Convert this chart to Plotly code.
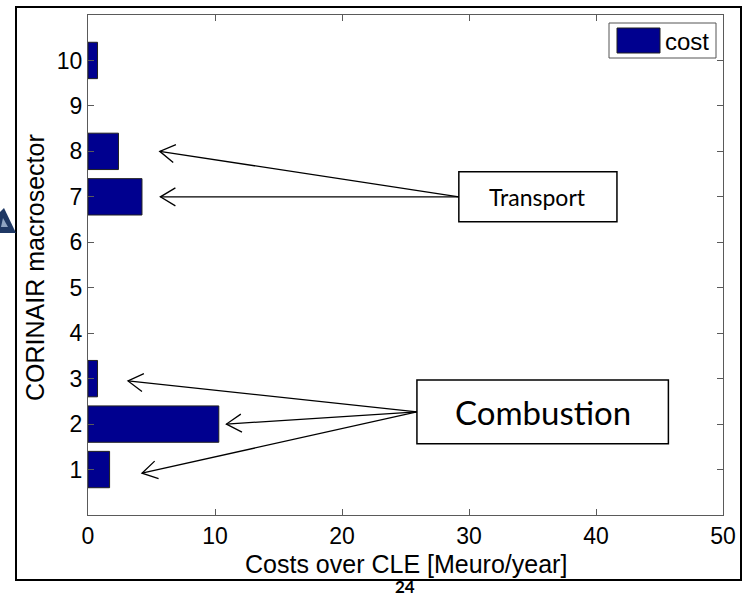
import math
import plotly.graph_objects as go

# ---- data -------------------------------------------------------------
sectors = [1, 2, 3, 4, 5, 6, 7, 8, 9, 10]
cost = [1.7, 10.3, 0.75, 0, 0, 0, 4.25, 2.4, 0, 0.75]
x_ticks = [0, 10, 20, 30, 40, 50]
series_name = "cost"
x_title = "Costs over CLE [Meuro/year]"
y_title = "CORINAIR macrosector"
page_number = "24"

# call-out boxes (data units) with the bars they point at
callouts = [
    dict(text="Transport", size=23, box=(29.2, 41.65, 6.45, 7.55),
         tail=(29.2, 7.0), tips=[(5.65, 8.0), (5.7, 7.0)]),
    dict(text="Combustion", size=33, box=(25.9, 45.7, 1.57, 2.97),
         tail=(25.9, 2.27), tips=[(3.15, 2.95), (10.9, 2.0), (4.25, 0.92)]),
]

# ---- geometry ---------------------------------------------------------
W, H = 748, 596
ML, MR, MT, MB = 88, 25, 15, 81
PW, PH = W - ML - MR, H - MT - MB
XR = (0, 50)
YR = (0, 11)
BAR_COLOR = "#00008F"
AXIS_FONT = "Liberation Sans, Arial, sans-serif"
NOTE_FONT = "Lato, Carlito, sans-serif"


def data_to_px(xd, yd):
    return (ML + (xd - XR[0]) / (XR[1] - XR[0]) * PW,
            MT + (YR[1] - yd) / (YR[1] - YR[0]) * PH)


def px_to_paper(px, py):
    return (px - ML) / PW, (MT + PH - py) / PH


def paper_path(points, close=False):
    pts = [px_to_paper(*p) for p in points]
    s = "M" + " L".join(f"{x:.5f},{y:.5f}" for x, y in pts)
    return s + (" Z" if close else "")


fig = go.Figure()
fig.add_trace(go.Bar(
    x=cost, y=sectors, orientation="h", width=0.8, name=series_name,
    marker=dict(color=BAR_COLOR,
                line=dict(color="#202020", width=[1 if v > 0 else 0 for v in cost])),
    showlegend=False,
))

shapes = []
annotations = []

# call-out boxes, texts and open-headed arrows
HEAD_L, HEAD_W = 15, 9
for c in callouts:
    x0, x1, y0, y1 = c["box"]
    shapes.append(dict(type="rect", xref="x", yref="y", x0=x0, x1=x1, y0=y0, y1=y1,
                       line=dict(color="black", width=1.5), fillcolor="white", layer="above"))
    annotations.append(dict(xref="x", yref="y", x=(x0 + x1) / 2, y=(y0 + y1) / 2,
                            text=c["text"], showarrow=False,
                            font=dict(family=NOTE_FONT, size=c["size"], color="black")))
    tx, ty = data_to_px(*c["tail"])
    for tip in c["tips"]:
        hx, hy = data_to_px(*tip)
        dx, dy = hx - tx, hy - ty
        n = math.hypot(dx, dy)
        ux, uy = dx / n, dy / n
        a = (hx - HEAD_L * ux - HEAD_W * uy, hy - HEAD_L * uy + HEAD_W * ux)
        b = (hx - HEAD_L * ux + HEAD_W * uy, hy - HEAD_L * uy - HEAD_W * ux)
        shapes.append(dict(type="path", xref="paper", yref="paper",
                           path=paper_path([(tx, ty), (hx, hy)]),
                           line=dict(color="black", width=1.3), layer="above"))
        shapes.append(dict(type="path", xref="paper", yref="paper",
                           path=paper_path([a, (hx, hy), b]),
                           line=dict(color="black", width=1.3), layer="above"))

# legend box drawn in the upper-right corner
lx0, ly0 = px_to_paper(609, 58)
lx1, ly1 = px_to_paper(716, 23)
shapes.append(dict(type="rect", xref="paper", yref="paper", x0=lx0, x1=lx1, y0=ly0, y1=ly1,
                   line=dict(color="#555555", width=1), fillcolor="white", layer="above"))
sx0, sy0 = px_to_paper(617, 53)
sx1, sy1 = px_to_paper(660, 28)
shapes.append(dict(type="rect", xref="paper", yref="paper", x0=sx0, x1=sx1, y0=sy0, y1=sy1,
                   line=dict(color="#202020", width=1), fillcolor=BAR_COLOR, layer="above"))
tx_, ty_ = px_to_paper(663, 41)
annotations.append(dict(xref="paper", yref="paper", x=tx_, y=ty_, xanchor="left", yanchor="middle",
                        text=series_name, showarrow=False,
                        font=dict(family=AXIS_FONT, size=24, color="black")))

# axis titles
ax_, ay_ = px_to_paper(ML + PW / 2, 564)
annotations.append(dict(xref="paper", yref="paper", x=ax_, y=ay_, text=x_title, showarrow=False,
                        xanchor="center", yanchor="middle",
                        font=dict(family=AXIS_FONT, size=25, color="black")))
bx_, by_ = px_to_paper(35, 268)
annotations.append(dict(xref="paper", yref="paper", x=bx_, y=by_, text=y_title, showarrow=False,
                        textangle=-90, xanchor="center", yanchor="middle",
                        font=dict(family=AXIS_FONT, size=25, color="black")))

# slide frame, page number and logo corner
fx0, fy0 = px_to_paper(16, 580)
fx1, fy1 = px_to_paper(741, 7)
shapes.append(dict(type="rect", xref="paper", yref="paper", x0=fx0, x1=fx1, y0=fy0, y1=fy1,
                   line=dict(color="black", width=2), layer="above"))
shapes.append(dict(type="path", xref="paper", yref="paper",
                   path=paper_path([(0, 212), (4, 208), (16, 233), (0, 233)], close=True),
                   fillcolor="#1F3864", line=dict(width=0), layer="above"))
shapes.append(dict(type="path", xref="paper", yref="paper",
                   path=paper_path([(1, 227), (8, 227), (3, 218)], close=True),
                   fillcolor="#8FA4C2", line=dict(width=0), layer="above"))
px_, py_ = px_to_paper(405, 586)
annotations.append(dict(xref="paper", yref="paper", x=px_, y=py_, text="<b>" + page_number + "</b>",
                        showarrow=False, xanchor="center", yanchor="middle",
                        font=dict(family=NOTE_FONT, size=17, color="black")))

axis_common = dict(showgrid=False, zeroline=False, showline=True, mirror="ticks",
                   linecolor="#5a5a5a", linewidth=1, ticks="inside", ticklen=6,
                   tickcolor="#5a5a5a", tickwidth=1,
                   tickfont=dict(family=AXIS_FONT, size=23, color="black"))

fig.update_layout(
    width=W, height=H,
    margin=dict(l=ML, r=MR, t=MT, b=MB),
    paper_bgcolor="white", plot_bgcolor="white",
    shapes=shapes, annotations=annotations,
    xaxis=dict(range=list(XR), tickvals=x_ticks, **axis_common),
    yaxis=dict(range=list(YR), tickvals=sectors, **axis_common),
    showlegend=False,
)

fig.write_html("out.html")
